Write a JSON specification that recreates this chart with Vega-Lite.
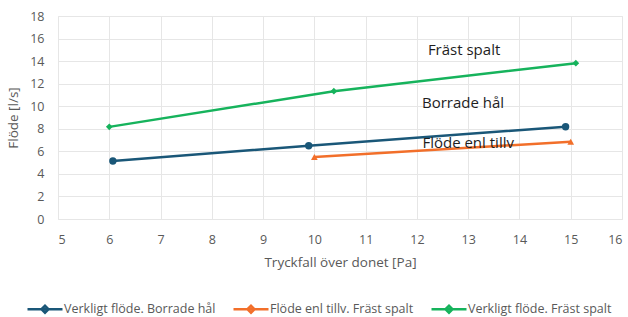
{
  "$schema": "https://vega.github.io/schema/vega-lite/v6.json",
  "width": 564,
  "height": 203,
  "autosize": {"type": "none"},
  "padding": {"left": 58, "top": 16, "right": 6, "bottom": 98},
  "background": "white",
  "config": {
    "font": "Open Sans",
    "view": {"stroke": "#e8e8e8"},
    "axis": {"labelColor": "#595959", "titleColor": "#595959", "labelFontSize": 12.5, "titleFontSize": 13.5, "titleFontWeight": "normal", "gridColor": "#e6e6e6", "domain": false, "ticks": false, "labelOverlap": false},
    "axisY": {"labelOverlap": false},
    "axisLeft": {"labelOverlap": false}
  },
  "datasets": {
    "pts": [
      {"serie": "Verkligt flöde. Borrade hål", "tryck": 6.07, "flode": 5.14},
      {"serie": "Verkligt flöde. Borrade hål", "tryck": 9.89, "flode": 6.5},
      {"serie": "Verkligt flöde. Borrade hål", "tryck": 14.9, "flode": 8.18},
      {"serie": "Flöde enl tillv. Fräst spalt", "tryck": 10.0, "flode": 5.5},
      {"serie": "Flöde enl tillv. Fräst spalt", "tryck": 15.0, "flode": 6.85},
      {"serie": "Verkligt flöde. Fräst spalt", "tryck": 6.0, "flode": 8.17},
      {"serie": "Verkligt flöde. Fräst spalt", "tryck": 10.38, "flode": 11.33},
      {"serie": "Verkligt flöde. Fräst spalt", "tryck": 15.1, "flode": 13.82}
    ],
    "labels": [
      {"tryck": 12.92, "flode": 15.0, "text": "Fräst spalt"},
      {"tryck": 12.9, "flode": 10.3, "text": "Borrade hål"},
      {"tryck": 13.0, "flode": 6.7, "text": "Flöde enl tillv"}
    ]
  },
  "encoding": {
    "x": {"field": "tryck", "type": "quantitative", "scale": {"domain": [5, 16], "nice": false, "zero": false}, "axis": {"title": "Tryckfall över donet [Pa]", "values": [5,6,7,8,9,10,11,12,13,14,15,16], "labelPadding": 14, "titlePadding": 10}},
    "y": {"field": "flode", "type": "quantitative", "scale": {"domain": [0, 18], "nice": false, "zero": true}, "axis": {"title": "Flöde [l/s]", "values": [0,2,4,6,8,10,12,14,16,18], "labelOverlap": false, "labelBound": false, "labelFlush": false, "labelPadding": 14, "titlePadding": 9}}
  },
  "layer": [
    {
      "data": {"name": "pts"},
      "mark": {"type": "line", "strokeWidth": 2.5},
      "encoding": {
        "color": {"field": "serie", "type": "nominal",
          "scale": {"domain": ["Verkligt flöde. Borrade hål", "Flöde enl tillv. Fräst spalt", "Verkligt flöde. Fräst spalt"], "range": ["#1a5778", "#f26f2a", "#16b35c"]},
          "legend": {"title": null, "orient": "none", "legendX": -32, "legendY": 274, "direction": "horizontal", "columns": 3, "symbolType": "M-1,0H1M-0.2,0L0,-0.2L0.2,0L0,0.2Z", "symbolSize": 1225, "symbolStrokeWidth": 2.5, "labelFontSize": 12.5, "labelColor": "#595959", "columnPadding": 12, "labelOffset": 0}
        }
      }
    },
    {
      "data": {"name": "pts"},
      "transform": [{"filter": "datum.serie === 'Verkligt flöde. Borrade hål'"}],
      "mark": {"type": "point", "filled": true, "size": 55, "opacity": 1, "shape": "circle", "color": "#1a5778"}
    },
    {
      "data": {"name": "pts"},
      "transform": [{"filter": "datum.serie === 'Flöde enl tillv. Fräst spalt'"}],
      "mark": {"type": "point", "filled": true, "size": 45, "opacity": 1, "shape": "triangle-up", "color": "#f26f2a"}
    },
    {
      "data": {"name": "pts"},
      "transform": [{"filter": "datum.serie === 'Verkligt flöde. Fräst spalt'"}],
      "mark": {"type": "point", "filled": true, "size": 45, "opacity": 1, "shape": "diamond", "color": "#16b35c"}
    },
    {
      "data": {"name": "labels"},
      "mark": {"type": "text", "fontSize": 15, "fontWeight": 500, "color": "#1e1e1e", "align": "center", "baseline": "middle"},
      "encoding": {
        "text": {"field": "text"}
      }
    }
  ]
}
